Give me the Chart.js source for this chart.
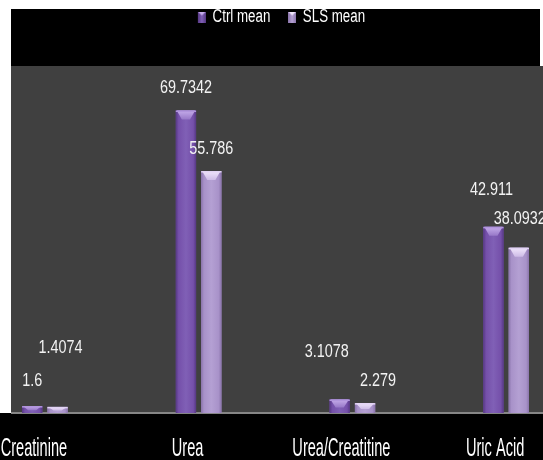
<!DOCTYPE html>
<html>
<head>
<meta charset="utf-8">
<script src="https://cdn.jsdelivr.net/npm/chart.js@4/dist/chart.umd.min.js"></script>
<style>
  html, body { margin: 0; padding: 0; background: #ffffff; overflow: hidden; width: 543px; height: 460px; }
  #wrap { position: absolute; left: -32px; top: 0; width: 615px; height: 460px; }
</style>
</head>
<body>
<div id="wrap"><canvas id="chart" width="615" height="460"></canvas></div>
<script>
// ---- data ----
const categories = ['Creatinine', 'Urea', 'Urea/Creatitine', 'Uric Acid'];
const ctrlMean = [1.6, 69.7342, 3.1078, 42.911];
const slsMean = [1.4074, 55.786, 2.279, 38.0932];
const seriesNames = ['Ctrl mean', 'SLS mean'];
const yMin = 0;
const yMax = 80;

// ---- look ----
const FONT = "'Liberation Sans', Arial, sans-serif";
const PAGE_SHIFT = 32;           // the canvas starts this far left of the page
const PLOT_TOP = 66;             // y of the plot area top
const PLOT_BOTTOM = 413;         // y of the category axis line

const palettes = [
  { edge: '#563884', body: '#7550aa', mid: '#8060b6', cap: '#c6adeb', capEdge: '#9677c7', rim: '#b195dd' },
  { edge: '#8a74ab', body: '#a892c9', mid: '#b4a0d3', cap: '#f1e7fc', capEdge: '#cdbbe6', rim: '#e2d4f4' }
];

// small bevelled swatch used as the legend marker (left part is spacing)
function makeSwatch(p) {
  const c = document.createElement('canvas');
  c.width = 27; c.height = 11;
  const g = c.getContext('2d');
  const l = 16, w = 11;
  const grad = g.createLinearGradient(l, 0, l + w, 0);
  grad.addColorStop(0, p.edge); grad.addColorStop(0.5, p.mid); grad.addColorStop(1, p.edge);
  g.fillStyle = grad; g.fillRect(l, 0, w, 11);
  g.beginPath(); g.moveTo(l, 0); g.lineTo(l + w, 0); g.lineTo(l + w / 2, 4); g.closePath();
  g.fillStyle = p.cap; g.fill();
  return c;
}

// page chrome: white frame, black header and footer, grey plot area, axis line
const chrome = {
  id: 'chrome',
  beforeDraw(chart) {
    const { ctx, chartArea, width, height } = chart;
    ctx.save();
    ctx.fillStyle = '#ffffff';
    ctx.fillRect(0, 0, width, height);
    ctx.fillStyle = '#000000';
    ctx.fillRect(11 + PAGE_SHIFT, 9, 529, chartArea.top - 9);
    ctx.fillStyle = '#404040';
    ctx.fillRect(11 + PAGE_SHIFT, chartArea.top, width, chartArea.bottom - chartArea.top);
    ctx.fillStyle = '#000000';
    ctx.fillRect(0, chartArea.bottom, width, height - chartArea.bottom);
    ctx.strokeStyle = '#868686';
    ctx.lineWidth = 2;
    ctx.beginPath();
    ctx.moveTo(11 + PAGE_SHIFT, chartArea.bottom);
    ctx.lineTo(width, chartArea.bottom);
    ctx.stroke();
    ctx.restore();
  }
};

// condensed legend lettering: squeeze the legend horizontally about its centre
const legendSqueeze = {
  id: 'legendSqueeze',
  beforeDraw(chart, args, opts) {
    const lg = chart.legend;
    if (!lg || lg._squeezed) return;
    const orig = lg.draw;
    lg.draw = function (...a) {
      const ctx = this.ctx;
      const cx = (this.left + this.right) / 2;
      ctx.save();
      ctx.translate(cx, 0);
      ctx.scale(opts.squeeze, 1);
      ctx.translate(-cx, 0);
      orig.apply(this, a);
      ctx.restore();
    };
    lg._squeezed = true;
  }
};

// shaded, bevelled columns drawn over each bar element
const barSkin = {
  id: 'barSkin',
  afterDatasetsDraw(chart) {
    const ctx = chart.ctx;
    chart.data.datasets.forEach((ds, di) => {
      const meta = chart.getDatasetMeta(di);
      const p = palettes[di];
      meta.data.forEach(el => {
        const { x, y, base, width } = el.getProps(['x', 'y', 'base', 'width'], true);
        const l = x - width / 2, r = x + width / 2, h = base - y;
        ctx.save();
        const g = ctx.createLinearGradient(l, 0, r, 0);
        g.addColorStop(0, p.edge);
        g.addColorStop(0.14, p.body);
        g.addColorStop(0.5, p.mid);
        g.addColorStop(0.86, p.body);
        g.addColorStop(1, p.edge);
        ctx.fillStyle = g;
        ctx.fillRect(l, y, width, h);
        const bev = Math.min(9, h * 0.6);
        ctx.beginPath();
        ctx.moveTo(l + 1, y);
        ctx.lineTo(r - 1, y);
        ctx.lineTo(r - width * 0.3, y + bev);
        ctx.lineTo(l + width * 0.3, y + bev);
        ctx.closePath();
        const cg = ctx.createLinearGradient(0, y, 0, y + bev);
        cg.addColorStop(0, p.cap);
        cg.addColorStop(1, p.capEdge);
        ctx.fillStyle = cg;
        ctx.fill();
        ctx.fillStyle = p.rim;
        ctx.fillRect(l, y, width, 1.5);
        ctx.restore();
      });
    });
  }
};

// value labels, nudged off the column tops, in condensed lettering
const valueLabels = {
  id: 'valueLabels',
  afterDatasetsDraw(chart, args, opts) {
    const ctx = chart.ctx;
    ctx.save();
    ctx.font = `${opts.size}px ${FONT}`;
    ctx.fillStyle = opts.color;
    ctx.textAlign = 'center';
    ctx.textBaseline = 'middle';
    chart.data.datasets.forEach((ds, di) => {
      const meta = chart.getDatasetMeta(di);
      meta.data.forEach((el, i) => {
        const [dx, dy] = opts.nudge[di][i];
        ctx.save();
        ctx.translate(el.x + dx, el.y + dy);
        ctx.scale(opts.squeeze, 1);
        ctx.fillText(String(ds.data[i]), 0, 0);
        ctx.restore();
      });
    });
    ctx.restore();
  }
};

// tall, narrow category captions in the footer band
const categoryCaptions = {
  id: 'categoryCaptions',
  afterDraw(chart, args, opts) {
    const ctx = chart.ctx;
    const xs = chart.scales.x;
    ctx.save();
    ctx.font = `${opts.size}px ${FONT}`;
    ctx.fillStyle = opts.color;
    ctx.textAlign = 'center';
    ctx.textBaseline = 'alphabetic';
    chart.data.labels.forEach((lab, i) => {
      ctx.save();
      ctx.translate(xs.getPixelForTick(i) + opts.shift, opts.baseline);
      ctx.scale(opts.squeeze, opts.stretch);
      ctx.fillText(lab, 0, 0);
      ctx.restore();
    });
    ctx.restore();
  }
};

const chart = new Chart(document.getElementById('chart'), {
  type: 'bar',
  data: {
    labels: categories,
    datasets: [
      { label: seriesNames[0], data: ctrlMean, backgroundColor: palettes[0].body, pointStyle: makeSwatch(palettes[0]) },
      { label: seriesNames[1], data: slsMean, backgroundColor: palettes[1].body, pointStyle: makeSwatch(palettes[1]) }
    ]
  },
  options: {
    responsive: false,
    animation: false,
    devicePixelRatio: 1,
    categoryPercentage: 0.33,
    barPercentage: 0.8,
    layout: { padding: 0 },
    scales: {
      x: {
        position: 'bottom',
        grid: { display: false, drawTicks: false },
        border: { display: false },
        ticks: { display: false },
        afterFit(scale) { scale.height = 460 - PLOT_BOTTOM; }
      },
      xTop: {
        type: 'category',
        labels: categories,
        position: 'top',
        grid: { display: false, drawTicks: false },
        border: { display: false },
        ticks: { display: false },
        afterFit(scale) {
          const lg = scale.chart.legend;
          scale.height = Math.max(0, PLOT_TOP - (lg ? lg.height : 0));
        }
      },
      y: { display: false, min: yMin, max: yMax }
    },
    plugins: {
      tooltip: { enabled: false },
      legend: {
        position: 'top',
        labels: {
          color: '#ffffff',
          font: { family: FONT, size: 18 },
          usePointStyle: true,
          pointStyleWidth: 27,
          boxHeight: 11,
          padding: 8
        }
      },
      legendSqueeze: { squeeze: 0.74 },
      valueLabels: {
        size: 18,
        squeeze: 0.8,
        color: '#f2f2f2',
        nudge: [
          [[0, -25], [0, -22], [-13, -47], [-2, -37]],
          [[3, -59], [0, -22], [13, -22], [1, -29]]
        ]
      },
      categoryCaptions: { size: 18, squeeze: 0.81, stretch: 1.45, color: '#ffffff', shift: -11, baseline: 456 }
    }
  },
  plugins: [chrome, legendSqueeze, barSkin, valueLabels, categoryCaptions]
});
</script>
</body>
</html>
